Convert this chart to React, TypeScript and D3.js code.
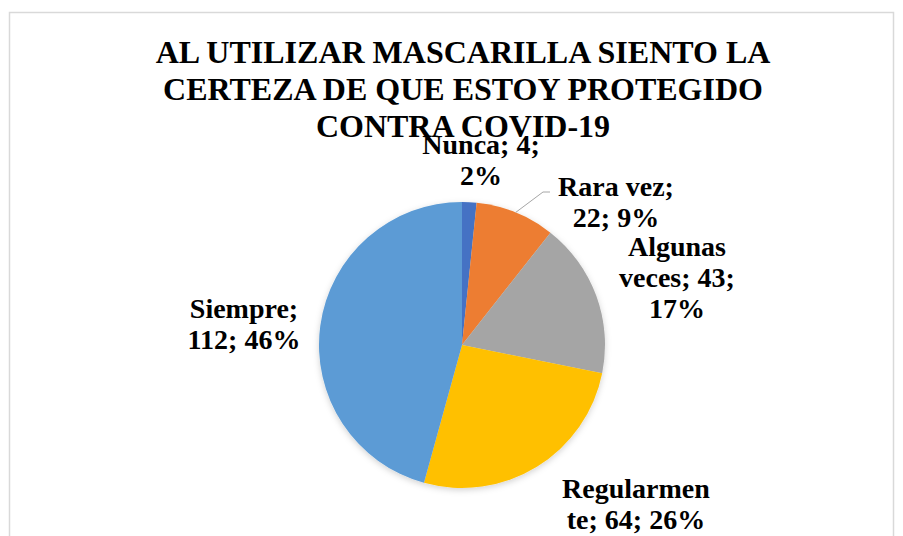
import React, { useRef, useEffect } from "react";
import * as d3 from "d3";

const categories = ["Nunca", "Rara vez", "Algunas veces", "Regularmente", "Siempre"];
const counts = [4, 22, 43, 64, 112];
const percents = ["2%", "9%", "17%", "26%", "46%"];
const colors = ["#4472C4", "#ED7D31", "#A5A5A5", "#FFC000", "#5B9BD5"];
const titleLines = ["AL UTILIZAR MASCARILLA SIENTO LA", "CERTEZA DE QUE ESTOY PROTEGIDO", "CONTRA COVID-19"];

// how Excel wrapped each data label
const labelLines = [
  ["Nunca; 4;", "2%"],
  ["Rara vez;", "22; 9%"],
  ["Algunas", "veces; 43;", "17%"],
  ["Regularmen", "te; 64; 26%"],
  ["Siempre;", "112; 46%"],
];
// label centre (x) and first baseline (y)
const labelPos: [number, number][] = [
  [481, 154],
  [616, 196],
  [677, 256],
  [636, 498],
  [244, 318],
];

export default function App() {
  const svgRef = useRef<SVGSVGElement>(null);
  const W = 903, H = 536;

  useEffect(() => {
    const svg = d3.select(svgRef.current);
    svg.selectAll("*").remove();
    const font = "'Liberation Serif', 'Times New Roman', serif";

    const defs = svg.append("defs");
    const f = defs.append("filter").attr("id", "shadow").attr("x", "-10%").attr("y", "-10%").attr("width", "120%").attr("height", "120%");
    f.append("feDropShadow").attr("dx", 0).attr("dy", 2).attr("stdDeviation", 3).attr("flood-color", "#000").attr("flood-opacity", 0.18);

    svg.append("rect").attr("width", W).attr("height", H).attr("fill", "#fff");
    svg.append("rect")
      .attr("x", 9.5).attr("y", 12.5).attr("width", 884).attr("height", 600)
      .attr("fill", "none").attr("stroke", "#d9d9d9").attr("stroke-width", 1.5);

    const cx = 462, cy = 345, r = 143;
    const pie = d3.pie<number>().sort(null).value(d => d);
    const arcs = pie(counts);
    const arc = d3.arc<d3.PieArcDatum<number>>().innerRadius(0).outerRadius(r);

    const g = svg.append("g").attr("transform", `translate(${cx},${cy})`).attr("filter", "url(#shadow)");
    g.selectAll("path").data(arcs).enter().append("path")
      .attr("d", arc)
      .attr("fill", (d, i) => colors[i]);

    // leader line for "Rara vez"
    const rv = arcs[1];
    const mid = (rv.startAngle + rv.endAngle) / 2;
    const ex = cx + r * Math.sin(mid), ey = cy - r * Math.cos(mid);
    svg.append("polyline")
      .attr("points", `${ex},${ey} ${543},${192} ${550},${192}`)
      .attr("fill", "none").attr("stroke", "#a6a6a6").attr("stroke-width", 1);

    svg.append("g").selectAll("text").data(titleLines).enter().append("text")
      .attr("x", 463).attr("y", (d, i) => 63 + i * 37)
      .attr("text-anchor", "middle")
      .attr("font-family", font).attr("font-weight", "bold").attr("font-size", 32)
      .attr("fill", "#000")
      .text(d => d);

    categories.forEach((c, i) => {
      const t = svg.append("text")
        .attr("text-anchor", "middle")
        .attr("font-family", font).attr("font-weight", "bold").attr("font-size", 28)
        .attr("fill", "#000");
      labelLines[i].forEach((line, j) => {
        t.append("tspan").attr("x", labelPos[i][0]).attr("y", labelPos[i][1] + j * 31).text(line);
      });
    });
  }, []);

  return <svg ref={svgRef} width={W} height={H} style={{ position: "absolute", left: 0, top: 0 }} />;
}
